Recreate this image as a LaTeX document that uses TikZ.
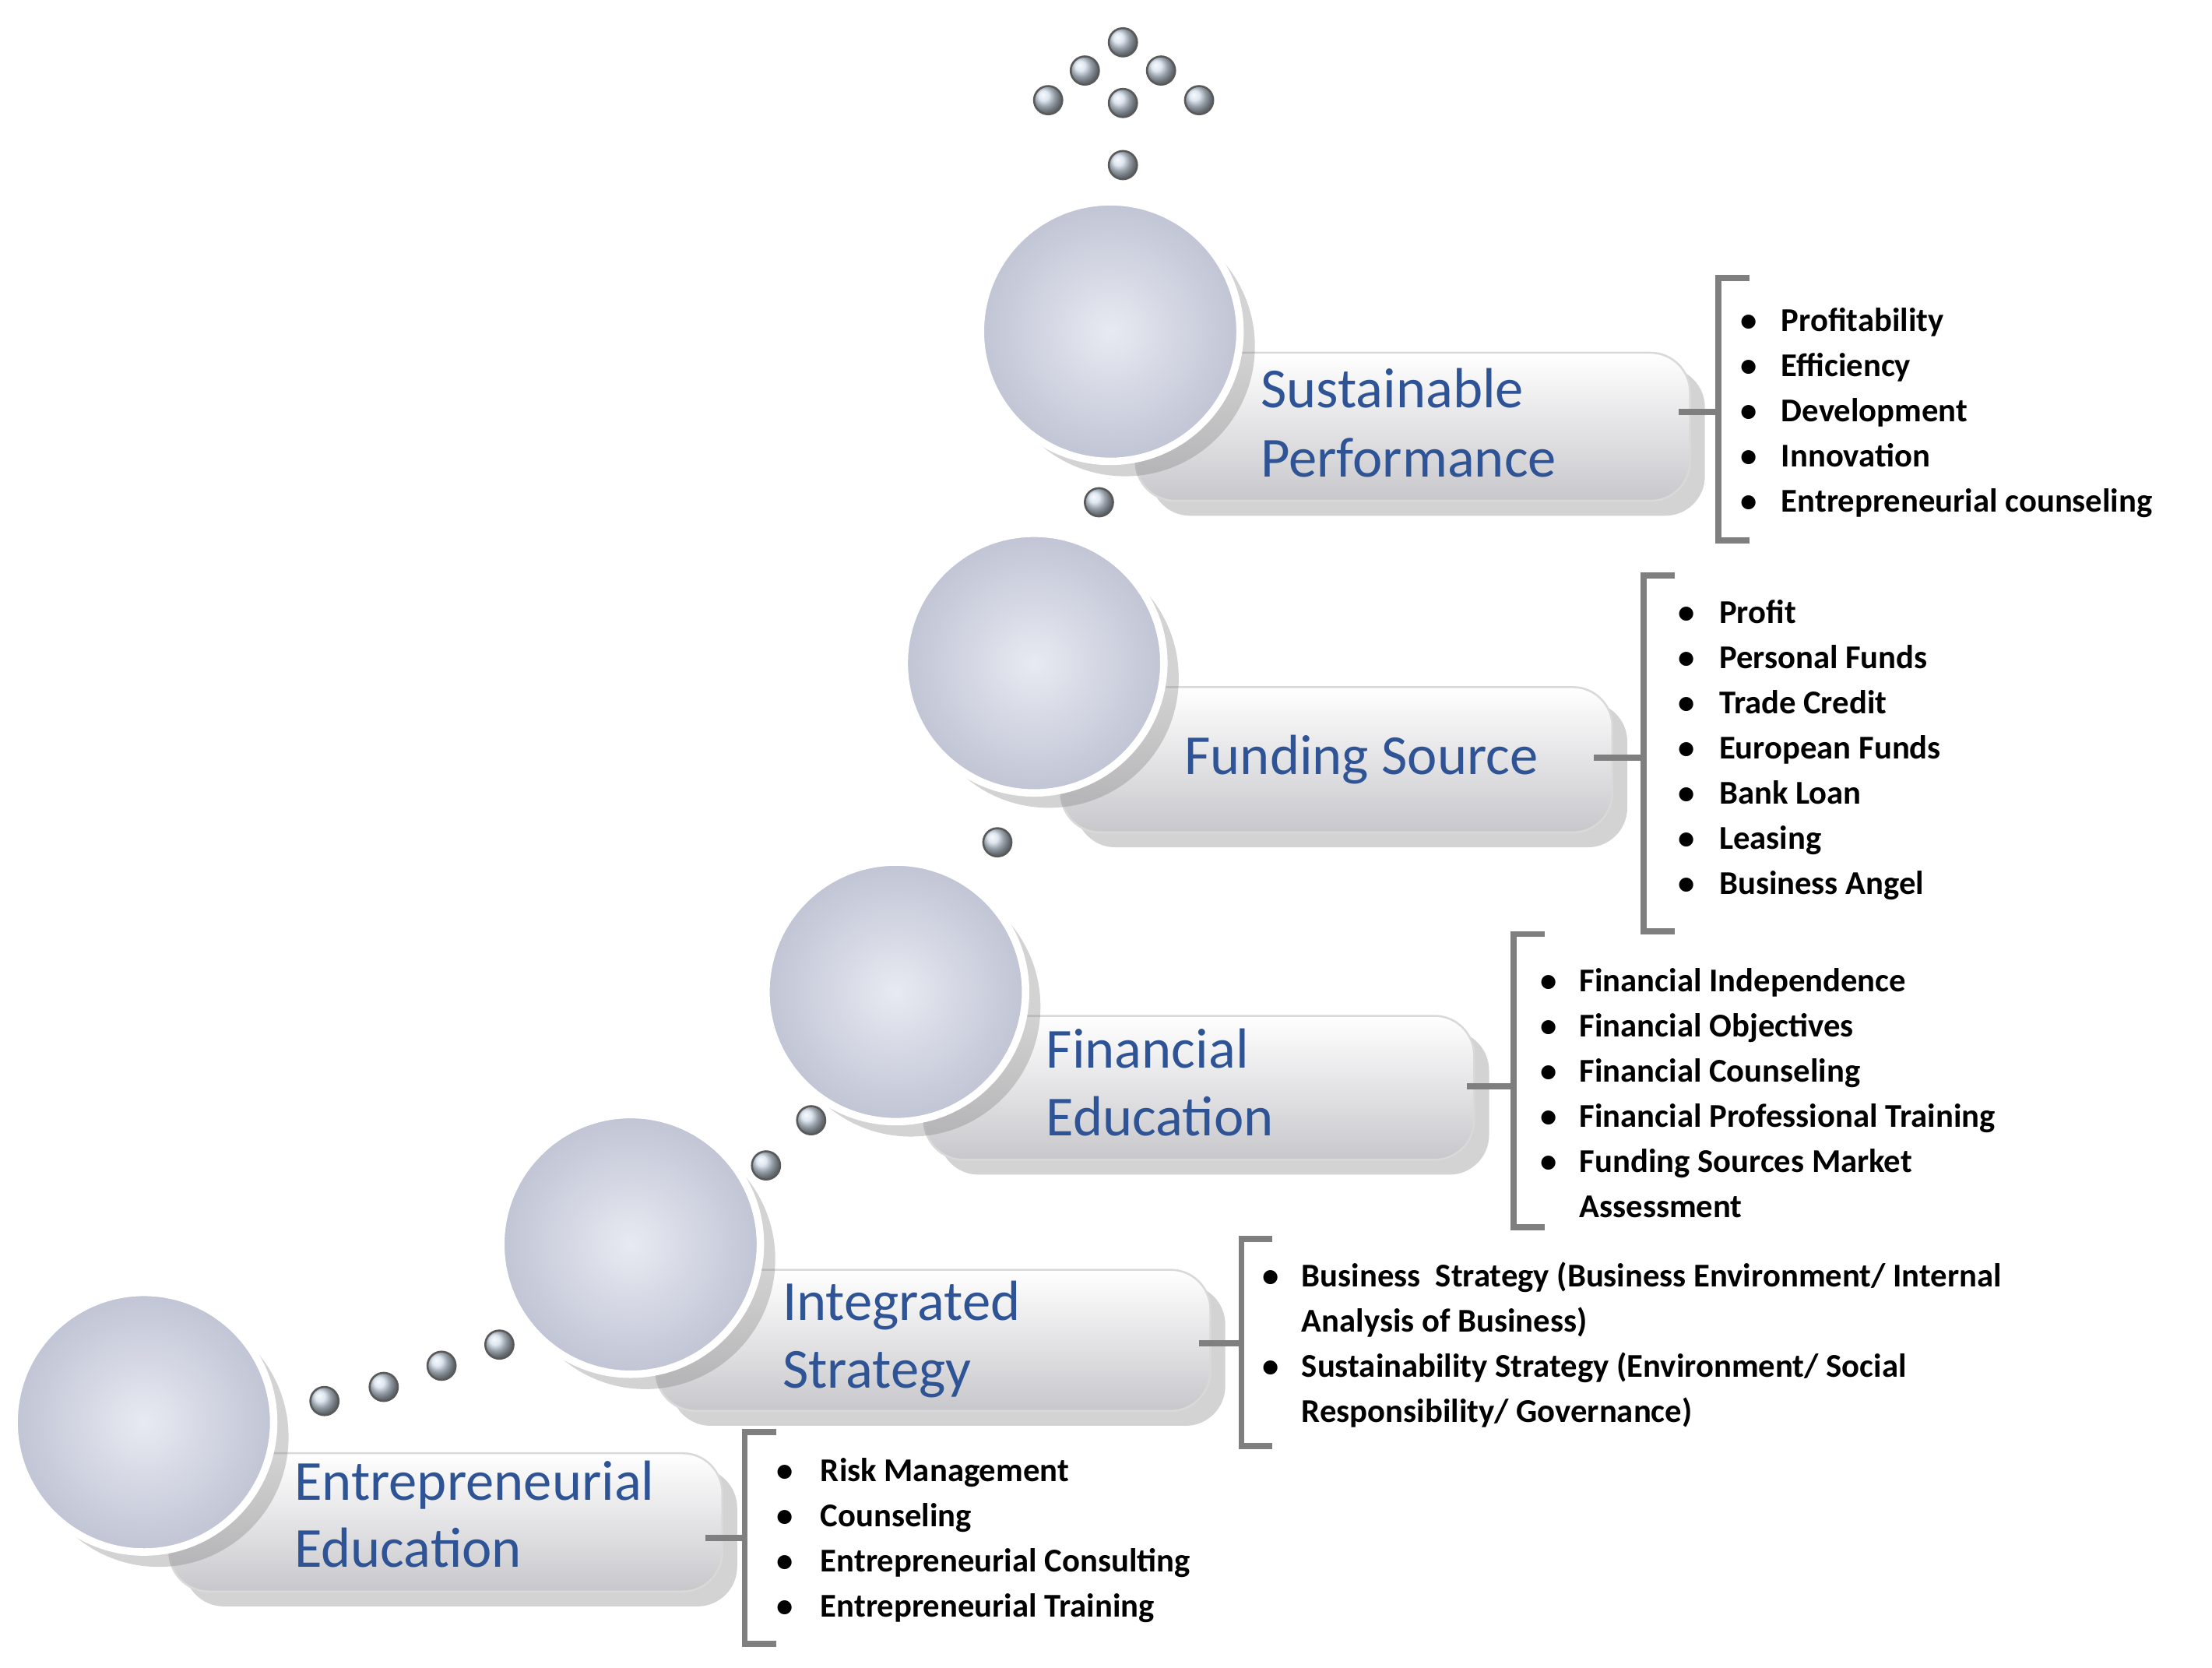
\documentclass[tikz,border=0pt]{standalone}
\usepackage{fontspec}
\setmainfont{Carlito}
\usetikzlibrary{shadows}
\definecolor{lbl}{HTML}{2F5496}
\definecolor{brk}{HTML}{7F7F7F}
\begin{document}
\begin{tikzpicture}[x=0.01cm,y=-0.01cm,
  bigc/.style={circle,minimum size=184*0.01cm,inner sep=0,draw=white,line width=1.5pt,inner color={rgb,255:red,232;green,234;blue,242},outer color={rgb,255:red,192;green,196;blue,212},drop shadow={opacity=0.35,shadow xshift=3pt,shadow yshift=-3pt}},
  bar/.style={rounded corners=8pt,draw=gray!30,top color=white,bottom color={rgb,255:red,200;green,200;blue,204},drop shadow={opacity=0.35,shadow xshift=3pt,shadow yshift=-3pt}},
  smc/.style={circle,minimum size=20*0.01cm,inner sep=0,draw=gray!70!black,thin,ball color={rgb,255:red,210;green,222;blue,235}},
  lab/.style={anchor=base west,text=lbl,font=\fontsize{11.4pt}{13.6pt}\selectfont,align=left,inner sep=0},
  itm/.style={anchor=base west,font=\bfseries\fontsize{6.7pt}{8pt}\selectfont,inner sep=0},
  brc/.style={draw=brk,line width=1.2pt}]
\useasboundingbox (0,0) rectangle (1568,1182);
% bars
\shade[bar] (120,1030) rectangle (512,1128);
\shade[bar] (465,900) rectangle (858,1000);
\shade[bar] (655,720) rectangle (1045,822);
\shade[bar] (752,487) rectangle (1143,590);
\shade[bar] (805,250) rectangle (1198,355);
% big circles
\node[bigc] (c1) at (102,1008) {};
\node[bigc] (c2) at (447,882) {};
\node[bigc] (c3) at (635,703) {};
\node[bigc] (c4) at (733,470) {};
\node[bigc] (c5) at (787,235) {};
% labels
\node[lab] (l1) at (208,1063) {Entrepreneurial};
\node[lab] (l1b) at (208,1111) {Education};
\node[lab] (l2) at (554,936) {Integrated};
\node[lab] (l2b) at (554,984) {Strategy};
\node[lab] (l3) at (741,757) {Financial};
\node[lab] (l3b) at (741,805) {Education};
\node[lab] (l4) at (839,549) {Funding Source};
\node[lab] (l5) at (893,289) {Sustainable};
\node[lab] (l5b) at (893,338) {Performance};
% small circles
\foreach \i/\p in {a/{(230,993)},b/{(272,983)},c/{(313,968)},d/{(354,953)},e/{(543,826)},f/{(575,794)},g/{(707,597)},h/{(779,356)},i/{(796,117)},j/{(796,30)},k/{(769,50)},l/{(823,50)},m/{(743,71)},n/{(796,73)},o/{(850,71)}}
  \node[smc] (s\i) at \p {};
% brackets
\draw[brc] (550,1015) -- (528,1015) -- (528,1165) -- (550,1165) (528,1090) -- (500,1090);
\draw[brc] (902,878) -- (880,878) -- (880,1025) -- (902,1025) (880,952) -- (850,952);
\draw[brc] (1095,662) -- (1073,662) -- (1073,870) -- (1095,870) (1073,770) -- (1040,770);
\draw[brc] (1187,408) -- (1165,408) -- (1165,660) -- (1187,660) (1165,537) -- (1130,537);
\draw[brc] (1240,197) -- (1218,197) -- (1218,383) -- (1240,383) (1218,292) -- (1190,292);
% items
\foreach \t [count=\k] in {Risk Management,Counseling,Entrepreneurial Consulting,Entrepreneurial Training}{
  \node[itm] (e\k b) at (550,1050+32*\k-32) {\textbullet};
  \node[itm] (e\k) at (581,1050+32*\k-32) {\t};}
\node[itm] (i1b) at (894,912) {\textbullet};
\node[itm] (i1) at (922,912) {Business\ \ Strategy (Business Environment/ Internal};
\node[itm] (i1c) at (922,944) {Analysis of Business)};
\node[itm] (i2b) at (894,976) {\textbullet};
\node[itm] (i2) at (922,976) {Sustainability Strategy (Environment/ Social};
\node[itm] (i2c) at (922,1008) {Responsibility/ Governance)};
\foreach \t [count=\k] in {Financial Independence,Financial Objectives,Financial Counseling,Financial Professional Training,Funding Sources Market}{
  \node[itm] (f\k b) at (1091,703+32*\k-32) {\textbullet};
  \node[itm] (f\k) at (1119,703+32*\k-32) {\t};}
\node[itm] (f6) at (1119,863) {Assessment};
\foreach \t [count=\k] in {Profit,Personal Funds,Trade Credit,European Funds,Bank Loan,Leasing,Business Angel}{
  \node[itm] (g\k b) at (1189,442+32*\k-32) {\textbullet};
  \node[itm] (g\k) at (1218,442+32*\k-32) {\t};}
\foreach \t [count=\k] in {Profitability,Efficiency,Development,Innovation,Entrepreneurial counseling}{
  \node[itm] (h\k b) at (1233,235+32*\k-32) {\textbullet};
  \node[itm] (h\k) at (1262,235+32*\k-32) {\t};}
\end{tikzpicture}
\end{document}
